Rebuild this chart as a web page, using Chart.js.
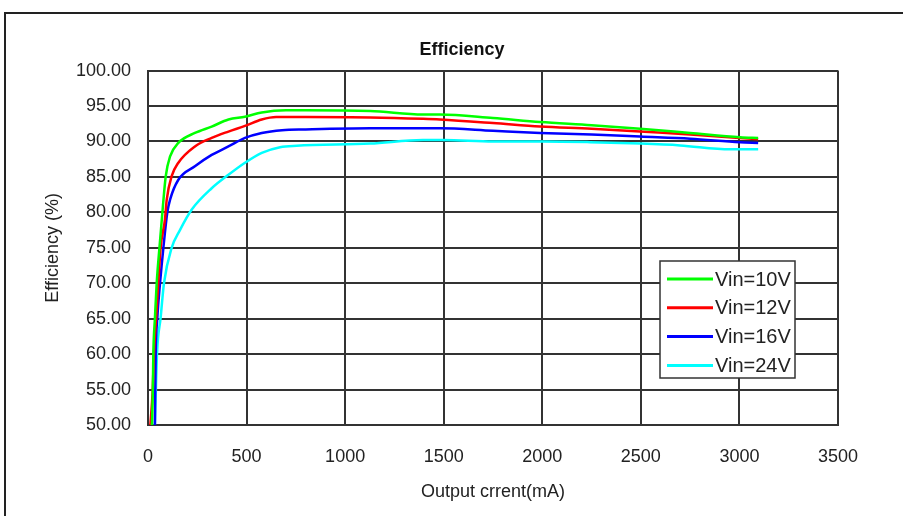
<!DOCTYPE html>
<html>
<head>
<meta charset="utf-8">
<script src="https://cdn.jsdelivr.net/npm/chart.js@4.4.1/dist/chart.umd.min.js"></script>
<style>
  html, body { margin: 0; padding: 0; background: #fff; overflow: hidden; }
  #wrap { position: relative; width: 903px; height: 516px; }
  #frame { position: absolute; left: 4px; top: 12px; width: 2000px; height: 2000px;
           border-left: 2px solid #222; border-top: 2px solid #222; }
  #chart { position: absolute; left: 0; top: 0; }
</style>
</head>
<body>
<div id="wrap">
  <div id="frame"></div>
  <canvas id="chart" width="903" height="516"></canvas>
</div>
<script>
// Efficiency vs output current, one pair of arrays per input voltage
const current10 = [20, 24, 27, 35, 44, 58, 76, 90, 112, 154, 238, 323, 408, 492, 577, 700, 800, 1127, 1395, 1481, 1750, 1989, 2250, 2496, 2750, 3003, 3095];
const eff10     = [50, 54, 60, 65, 70, 75, 81, 85.1, 87.9, 89.8, 91.2, 92.1, 93.1, 93.5, 94.1, 94.4, 94.4, 94.3, 93.8, 93.8, 93.3, 92.75, 92.3, 91.8, 91.2, 90.6, 90.5];

const current12 = [12, 24, 30, 41, 52, 64, 86, 95, 120, 154, 238, 323, 408, 492, 577, 650, 800, 1127, 1395, 1481, 1750, 1989, 2250, 2496, 2750, 3003, 3095];
const eff12     = [50, 55, 60, 65, 70, 75, 79, 81.8, 85.1, 87.0, 89.3, 90.5, 91.4, 92.2, 93.1, 93.45, 93.45, 93.4, 93.2, 93.1, 92.6, 92.1, 91.8, 91.4, 91.0, 90.5, 90.3];

const current16 = [35, 39, 47, 61, 78, 98, 112, 154, 238, 323, 408, 492, 577, 680, 800, 1127, 1481, 1750, 1989, 2250, 2496, 2750, 3003, 3095];
const eff16     = [50, 60, 65, 70, 75, 80, 81.8, 84.6, 86.5, 88.1, 89.3, 90.5, 91.2, 91.6, 91.7, 91.85, 91.85, 91.5, 91.2, 91.0, 90.7, 90.4, 89.9, 89.8];

const current24 = [35, 46, 64, 81, 120, 162, 222, 323, 408, 492, 577, 670, 754, 1127, 1395, 1500, 1750, 2000, 2243, 2500, 2699, 2953, 3095];
const eff24     = [50, 60.2, 65.1, 70, 75, 77.5, 80.4, 83.4, 85.3, 87.0, 88.4, 89.2, 89.4, 89.7, 90.2, 90.2, 90.0, 90.0, 89.9, 89.7, 89.45, 88.9, 88.9];

const seriesLabels = ["Vin=10V", "Vin=12V", "Vin=16V", "Vin=24V"];
const seriesColors = ["#00ff00", "#ff0000", "#0000ff", "#00ffff"];

const pairs = (xs, ys) => xs.map((x, i) => ({ x, y: ys[i] }));
const allData = [pairs(current10, eff10), pairs(current12, eff12), pairs(current16, eff16), pairs(current24, eff24)];

// legend box drawn inside the plot, bottom right
const boxLegend = {
  id: "boxLegend",
  afterDraw(chart) {
    const ctx = chart.ctx;
    const x0 = 660, y0 = 261, w = 135, h = 117;
    ctx.save();
    ctx.fillStyle = "#fff";
    ctx.fillRect(x0, y0, w, h);
    ctx.strokeStyle = "#333";
    ctx.lineWidth = 1.5;
    ctx.strokeRect(x0, y0, w, h);
    ctx.font = "20px 'Liberation Sans', Arial, sans-serif";
    ctx.textBaseline = "middle";
    chart.data.datasets.forEach((ds, i) => {
      const y = y0 + 18 + i * 28.8;
      ctx.strokeStyle = ds.borderColor;
      ctx.lineWidth = 3;
      ctx.beginPath();
      ctx.moveTo(667, y);
      ctx.lineTo(713, y);
      ctx.stroke();
      ctx.fillStyle = "#222";
      ctx.fillText(ds.label, 715, y + 1);
    });
    ctx.restore();
  }
};

new Chart(document.getElementById("chart"), {
  type: "line",
  data: {
    datasets: allData.map((d, i) => ({
      label: seriesLabels[i],
      data: d,
      borderColor: seriesColors[i],
      backgroundColor: seriesColors[i],
      borderWidth: 2.5,
      pointRadius: 0,
      cubicInterpolationMode: "monotone",
      fill: false,
    })),
  },
  options: {
    responsive: false,
    animation: false,
    devicePixelRatio: 1,
    layout: { padding: { left: 21, right: 0, top: 0, bottom: 0 } },
    plugins: {
      legend: { display: false },
      tooltip: { enabled: false },
      title: {
        display: true,
        text: "Efficiency",
        color: "#111",
        font: { family: "'Liberation Sans', Arial, sans-serif", size: 18, weight: "bold" },
        padding: { top: 39, bottom: 10 },
      },
    },
    scales: {
      x: {
        type: "linear",
        min: 0,
        max: 3500,
        afterFit: s => { s.height = 91; },
        ticks: { stepSize: 500, color: "#222", padding: 21, callback: v => String(v),
                 font: { family: "'Liberation Sans', Arial, sans-serif", size: 18 } },
        grid: { color: "#333", lineWidth: 2, drawTicks: false },
        border: { color: "#333", width: 2 },
        title: { display: true, text: "Output crrent(mA)", color: "#222",
                 font: { family: "'Liberation Sans', Arial, sans-serif", size: 18 },
                 padding: { top: 0, bottom: 13 } },
      },
      y: {
        min: 50,
        max: 100,
        afterFit: s => { s.width = 127; },
        ticks: { stepSize: 5, color: "#222", padding: 17, callback: v => v.toFixed(2),
                 font: { family: "'Liberation Sans', Arial, sans-serif", size: 18 } },
        grid: { color: "#333", lineWidth: 2, drawTicks: false },
        border: { color: "#333", width: 2 },
        title: { display: true, text: "Efficiency (%)", color: "#222",
                 font: { family: "'Liberation Sans', Arial, sans-serif", size: 18 },
                 padding: { top: 21, bottom: 0 } },
      },
      yRight: {
        type: "linear",
        position: "right",
        min: 50,
        max: 100,
        afterFit: s => { s.width = 65; },
        ticks: { display: false },
        grid: { display: false },
        border: { display: false },
      },
    },
  },
  plugins: [boxLegend],
});
</script>
</body>
</html>
